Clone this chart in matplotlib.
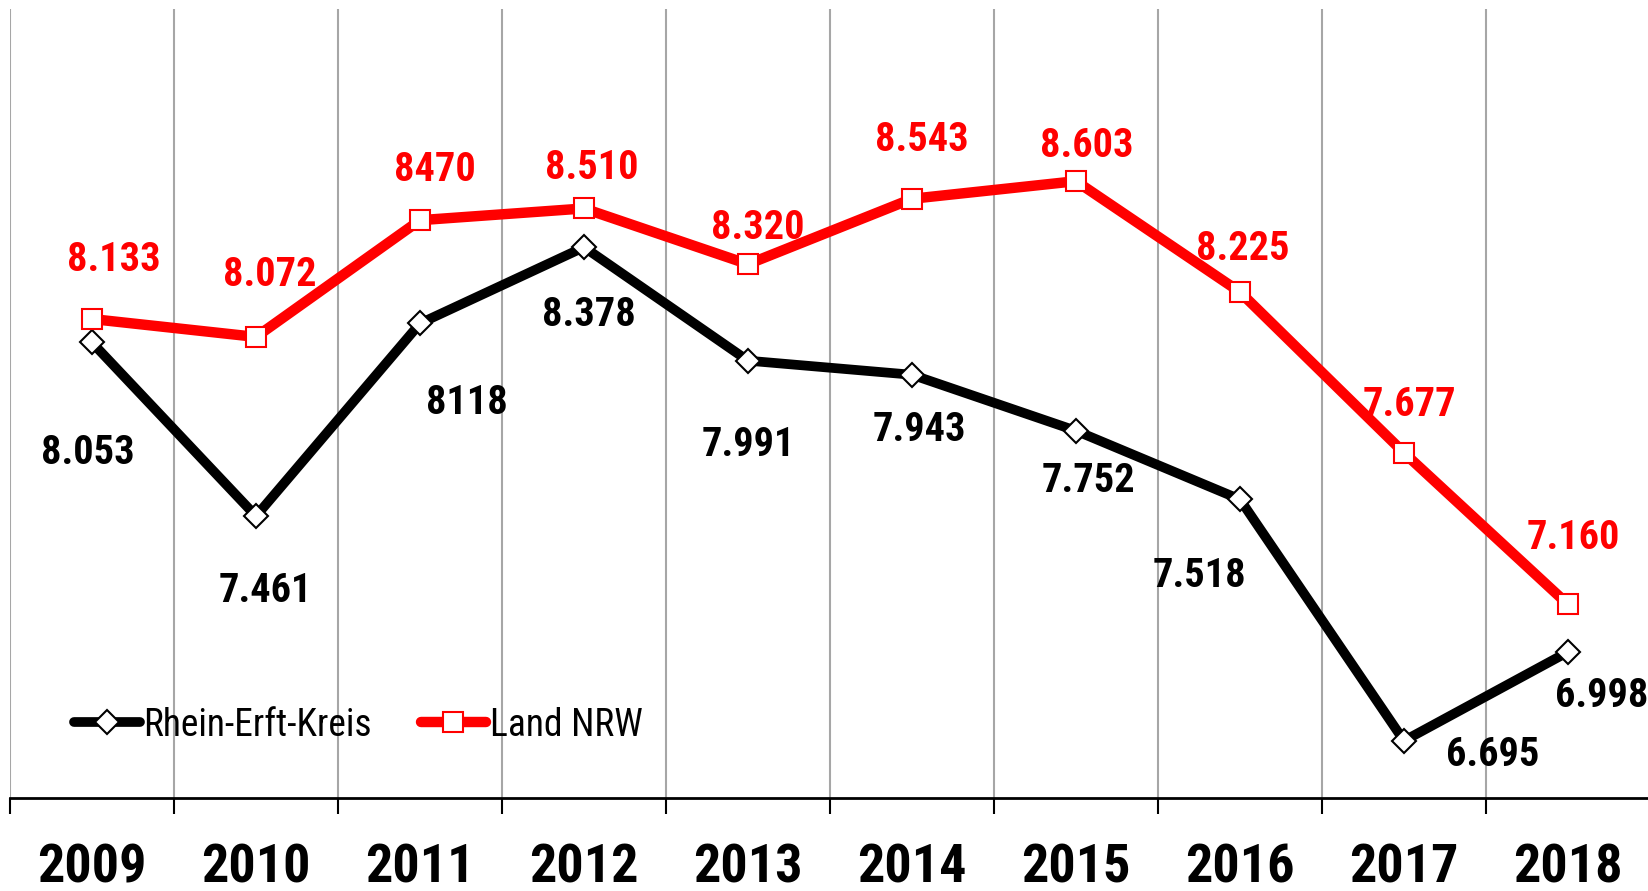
import matplotlib
matplotlib.use("Agg")
import matplotlib.pyplot as plt
from matplotlib import font_manager
import numpy as np

years = ['2009', '2010', '2011', '2012', '2013', '2014', '2015', '2016', '2017', '2018']
rhein_erft = [8.053, 7.461, 8.118, 8.378, 7.991, 7.943, 7.752, 7.518, 6.695, 6.998]
land_nrw = [8.133, 8.072, 8.470, 8.510, 8.320, 8.543, 8.603, 8.225, 7.677, 7.160]
rhein_erft_labels = ['8.053', '7.461', '8118', '8.378', '7.991', '7.943', '7.752', '7.518', '6.695', '6.998']
land_nrw_labels = ['8.133', '8.072', '8470', '8.510', '8.320', '8.543', '8.603', '8.225', '7.677', '7.160']

# label offsets in pixels (dx, dy) from the marker
black_offsets = [(-4, -111), (9, -75), (47, -80), (5, -68), (0, -84),
                 (7, -55), (12, -50), (-41, -77), (89, -14), (34, -44)]
red_offsets = [(22, 59), (14, 62), (15, 50), (8, 40), (10, 36),
               (10, 59), (11, 35), (3, 43), (5, 48), (5, 66)]

# pick a condensed sans (Arial Narrow look-alike) that is installed
candidates = ['Liberation Sans Narrow', 'Arial Narrow', 'Roboto Condensed', 'Archivo Narrow',
              'PT Sans Narrow', 'IBM Plex Sans Condensed', 'Fira Sans Condensed',
              'Open Sans Condensed', 'Sofia Sans Semi Condensed']
narrow = []
for c in candidates:
    try:
        font_manager.findfont(font_manager.FontProperties(family=c), fallback_to_default=False)
        narrow.append(c)
        break
    except Exception:
        pass
narrow += ['Liberation Sans', 'DejaVu Sans']

fig = plt.figure(figsize=(16.48, 8.91), dpi=100)
ax = fig.add_axes([10 / 1648, 93 / 891, 1640 / 1648, 789 / 891])

x = np.arange(len(years))

# vertical grid at category boundaries
for b in np.arange(-0.5, len(years) + 0.5, 1):
    ax.axvline(b, color='#a6a6a6', lw=1.5, zorder=0)

ax.plot(x, rhein_erft, color='black', lw=7, marker='D', markersize=12,
        markerfacecolor='white', markeredgecolor='black', markeredgewidth=1.5,
        solid_joinstyle='round', solid_capstyle='round', label='Rhein-Erft-Kreis', zorder=3)
ax.plot(x, land_nrw, color='#ff0000', lw=7.5, marker='s', markersize=15,
        markerfacecolor='white', markeredgecolor='#ff0000', markeredgewidth=1.5,
        solid_joinstyle='round', solid_capstyle='round', label='Land NRW', zorder=4)

for i in range(len(years)):
    ax.annotate(rhein_erft_labels[i], (x[i], rhein_erft[i]), xytext=black_offsets[i],
                textcoords='offset pixels', ha='center', va='center',
                fontsize=29, fontweight='bold', family=narrow, color='black')
    ax.annotate(land_nrw_labels[i], (x[i], land_nrw[i]), xytext=red_offsets[i],
                textcoords='offset pixels', ha='center', va='center',
                fontsize=29, fontweight='bold', family=narrow, color='#ff0000')

ax.set_xlim(-0.5, len(years) - 0.5)
ax.set_ylim(6.5, 9.19)

for s in ['top', 'right', 'left']:
    ax.spines[s].set_visible(False)
ax.spines['bottom'].set_linewidth(2)
ax.set_yticks([])

ax.set_xticks(np.arange(-0.5, len(years) + 0.5, 1))
ax.set_xticklabels([])
ax.tick_params(axis='x', which='major', direction='out', length=11.5, width=1.5, color='black')
ax.set_xticks(x, minor=True)
ax.set_xticklabels(years, minor=True, fontsize=39, fontweight='bold', family=narrow)
ax.tick_params(axis='x', which='minor', length=0, pad=32)

leg = ax.legend(loc='center left', bbox_to_anchor=(0.039, 0.0925), ncol=2, frameon=False,
                prop={'family': narrow, 'size': 27}, handlelength=1.75, handletextpad=0.1,
                columnspacing=1.3, borderpad=0, borderaxespad=0, numpoints=1)

fig.savefig('out.png', dpi=100)
